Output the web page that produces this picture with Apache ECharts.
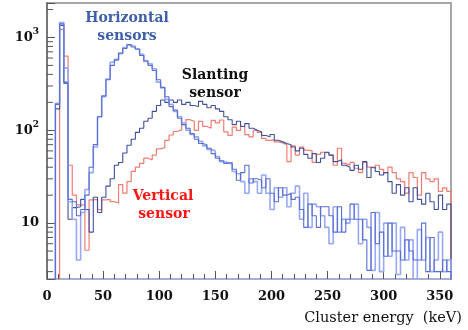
<!DOCTYPE html>
<html><head><meta charset="utf-8">
<script src="https://cdn.jsdelivr.net/npm/echarts/dist/echarts.min.js"></script>
<style>html,body{margin:0;padding:0;background:#fff}#c{width:468px;height:330px}</style>
</head><body><div id="c"></div>
<script>
// Bin width of the histograms (keV); bins start at 0 keV
const binWidth = 3.75;
// Horizontal sensor A (light blue)
const horizontalA = [0,0,195,1450,470,17,11,4,13,23,35,66,140,230,356,540,580,670,780,826,800,745,660,550,520,460,330,285,215,190,160,140,120,100,90,85,76,68,62,60,52,46,45,43,36,34,28,21,30,28,21,33,21,14,24,19,24,15,21,25,11,21,9,16,15,12,9,6,15,8,11,10,11,16,6,11,9,3.1,13,3,10,4.4,10,2.8,9,4,6.6,0,8.5,4,7,3,4,8,3,4];
// Horizontal sensor B (medium blue)
const horizontalB = [0,0,190,1400,320,18,17,12,14,20,40,70,140,235,350,500,570,680,760,840,790,750,640,560,500,440,350,290,230,180,165,135,115,105,92,80,72,70,64,56,50,47,44,45,38,29,35,42,27,30,29,24,30,21,17,24,20,21,18,19,14,9,16,12,9,15,15,12,8,15,8,11,16,11,11,6.6,3.1,13,6,8,4.4,10,5,5,4,6.6,5,4,4,10,3,7,3,3,4,3];
// Slanting sensor (dark blue)
const slanting = [0,0,170,1350,330,11,14.7,15,18,14,8,19,13,19,25,30,42,45,57,69,80,95,105,125,135,160,185,212,200,212,200,212,190,200,185,180,205,190,175,185,170,160,140,130,115,125,110,118,105,100,96,88,85,90,78,75,72,70,66,60,64,55,50,56,45,50,58,54,46,48,42,40,37,42,38,46,31,40,36,33,35,28,21,26,20,24,17,24,18,16,21,17,14,20,14,16];
// Vertical sensor (red)
const vertical = [0,0,0,1220,630,42,20,15.7,15.7,5.1,17.8,18,14,17.8,18,17,16.5,26,21,28,36,40,44,50,48,54,63,65,78,89,97,101,115,130,125,100,125,110,105,128,120,129,96,88,108,100,110,90,85,100,95,82,78,79,75,73,70,46,68,54,66,61,60,45,55,58,57,54,42,64,44,42,45,39,35,45,40,39,42,38,35,40,35,30,28,21,35,31,20,35,30,28,30,22,24,22];
// Axis tick labels
const xTickValues = [0,50,100,150,200,250,300,350];
const yMajorTicks = [10,100,1000];
const yMinorTicks = [3,4,5,6,7,8,9,20,30,40,50,60,70,80,90,200,300,400,500,600,700,800,900,2000];

const FLOOR = 0.5; // empty bins are drawn below the axis minimum
function histPoints(vals){
  const pts = [];
  for (let i = 0; i < vals.length; i++) pts.push([i * binWidth, vals[i] > 0 ? vals[i] : FLOOR]);
  pts.push([vals.length * binWidth, FLOOR]);
  return pts;
}
function hist(name, vals, color, width){
  return {name, type:'line', step:'end', data: histPoints(vals), showSymbol:false, symbol:'none',
    clip:true, lineStyle:{color, width}, xAxisIndex:0, yAxisIndex:0, animation:false, silent:true};
}
const serif = '"DejaVu Serif", "Liberation Serif", serif';
const chart = echarts.init(document.getElementById('c'), null, {renderer:'canvas'});
chart.setOption({
  animation:false,
  backgroundColor:'#fff',
  grid:{left:47, right:17, top:3, bottom:51, containLabel:false, outerBoundsMode:'none',
        show:true, borderColor:'#a6a6a6', borderWidth:2, backgroundColor:'transparent'},
  xAxis:[{
    type:'value', min:0, max:360, interval:10, position:'bottom',
    axisLine:{show:true, lineStyle:{color:'#aab2e0', width:1.5}},
    axisTick:{show:true, inside:true, length:5, lineStyle:{color:'#555'}},
    axisLabel:{show:false}, splitLine:{show:false}
  },{
    type:'value', min:0, max:360, interval:50, position:'bottom',
    axisLine:{show:false},
    axisTick:{show:true, inside:true, length:8, lineStyle:{color:'#555'}},
    axisLabel:{show:true, margin:11, color:'#111', fontFamily:serif, fontWeight:'bold', fontSize:13,
      formatter: v => xTickValues.indexOf(v) >= 0 ? String(v) : ''},
    splitLine:{show:false}
  }],
  yAxis:[{
    type:'log', logBase:10, min:2.5, max:2350,
    axisLine:{show:true, lineStyle:{color:'#666', width:1.5}},
    axisTick:{show:true, inside:true, length:8, lineStyle:{color:'#555'}},
    splitLine:{show:false},
    axisLabel:{show:true, margin:8, color:'#111',
      formatter: v => {
        const e = Math.round(Math.log10(v));
        const p = Math.pow(10, e);
        if (Math.abs(v - p) / p > 1e-6 || yMajorTicks.indexOf(p) < 0) return '';
        return e === 1 ? '{b|10}' : '{b|10}{s|' + e + '}';
      },
      rich:{
        b:{fontFamily:serif, fontWeight:'bold', fontSize:13, lineHeight:20, color:'#111'},
        s:{fontFamily:serif, fontWeight:'bold', fontSize:9, lineHeight:20, verticalAlign:'top', color:'#111'}
      }
    }
  }],
  series:[
    hist('Vertical sensor', vertical, '#f07c72', 1.2),
    hist('Slanting sensor', slanting, '#3f4f9c', 1.1),
    hist('Horizontal sensor A', horizontalA, '#97a9f6', 1.6),
    hist('Horizontal sensor B', horizontalB, '#5a6ed2', 1.1),
    {type:'custom', xAxisIndex:0, yAxisIndex:0, silent:true, clip:false, animation:false,
     data: yMinorTicks.map(v => [0, v]),
     renderItem:(params, api) => {
       const p = api.coord([0, api.value(1)]);
       return {type:'line', shape:{x1:p[0], y1:p[1], x2:p[0] + 6, y2:p[1]},
               style:{stroke:'#555', lineWidth:1}};
     }}
  ],
  graphic:[
    {type:'text', x:127, y:18, style:{text:'Horizontal', align:'center', verticalAlign:'middle', font:'bold 14px ' + serif, fill:'#3f5fa8'}},
    {type:'text', x:127, y:36, style:{text:'sensors', align:'center', verticalAlign:'middle', font:'bold 14px ' + serif, fill:'#3f5fa8'}},
    {type:'text', x:215, y:75, style:{text:'Slanting', align:'center', verticalAlign:'middle', font:'bold 14px ' + serif, fill:'#111'}},
    {type:'text', x:215, y:93, style:{text:'sensor', align:'center', verticalAlign:'middle', font:'bold 14px ' + serif, fill:'#111'}},
    {type:'text', x:163, y:196, style:{text:'Vertical', align:'center', verticalAlign:'middle', font:'bold 14px ' + serif, fill:'#ff1414'}},
    {type:'text', x:164, y:214, style:{text:'sensor', align:'center', verticalAlign:'middle', font:'bold 14px ' + serif, fill:'#ff1414'}},
    {type:'text', x:462, y:318, style:{text:'Cluster energy  (keV)', align:'right', verticalAlign:'middle', font:'14.5px ' + serif, fill:'#111'}}
  ]
});
</script></body></html>
